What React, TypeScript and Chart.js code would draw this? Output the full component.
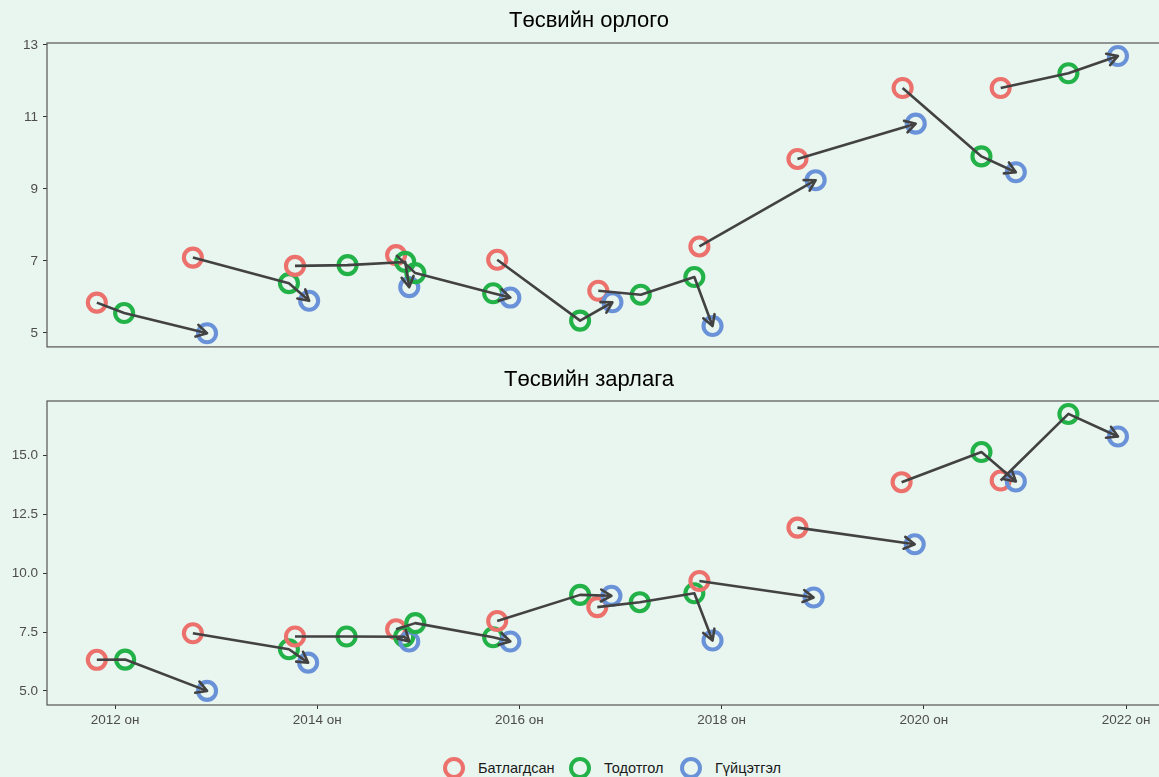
import { useEffect, useRef } from "react";
import { Chart, registerables } from "chart.js";

Chart.register(...registerables);

// each row: [budget year, time (decimal year), value]
type Obs = [number, number, number];

// Төсвийн орлого
const revenueApproved: Obs[] = [
  [2012, 2011.82, 5.84], [2013, 2012.77, 7.09], [2014, 2013.78, 6.86], [2015, 2014.78, 7.16],
  [2016, 2015.78, 7.03], [2017, 2016.78, 6.17], [2018, 2017.78, 7.4], [2019, 2018.75, 9.83],
  [2020, 2019.79, 11.8], [2021, 2020.76, 11.8],
];
const revenueAmended: Obs[] = [
  [2012, 2012.09, 5.55], [2013, 2013.72, 6.38], [2014, 2014.3, 6.88], [2014, 2014.87, 6.97],
  [2015, 2014.97, 6.66], [2015, 2015.74, 6.1], [2016, 2016.6, 5.34], [2017, 2017.2, 6.06],
  [2017, 2017.73, 6.55], [2020, 2020.57, 9.9], [2021, 2021.43, 12.21],
];
const revenueExecuted: Obs[] = [
  [2012, 2012.91, 4.99], [2013, 2013.92, 5.89], [2014, 2014.91, 6.27], [2015, 2015.91, 5.98],
  [2016, 2016.92, 5.85], [2017, 2017.91, 5.19], [2018, 2018.93, 9.24], [2019, 2019.92, 10.81],
  [2020, 2020.91, 9.46], [2021, 2021.92, 12.69],
];

// Төсвийн зарлага
const spendingApproved: Obs[] = [
  [2012, 2011.82, 6.32], [2013, 2012.77, 7.45], [2014, 2013.78, 7.31], [2015, 2014.78, 7.62],
  [2016, 2015.78, 7.97], [2017, 2016.77, 8.56], [2018, 2017.78, 9.67], [2019, 2018.75, 11.94],
  [2020, 2019.78, 13.87], [2021, 2020.76, 13.94],
];
const spendingAmended: Obs[] = [
  [2012, 2012.1, 6.33], [2013, 2013.72, 6.77], [2014, 2014.29, 7.31], [2014, 2014.86, 7.3],
  [2015, 2014.97, 7.88], [2015, 2015.74, 7.28], [2016, 2016.6, 9.08], [2017, 2017.19, 8.77],
  [2017, 2017.73, 9.15], [2020, 2020.57, 15.15], [2021, 2021.43, 16.77],
];
const spendingExecuted: Obs[] = [
  [2012, 2012.91, 5.0], [2013, 2013.91, 6.2], [2014, 2014.91, 7.1], [2015, 2015.91, 7.1],
  [2016, 2016.91, 9.04], [2017, 2017.91, 7.14], [2018, 2018.91, 8.97], [2019, 2019.91, 11.23],
  [2020, 2020.91, 13.9], [2021, 2021.92, 15.81],
];

const seriesNames = ["Батлагдсан", "Тодотгол", "Гүйцэтгэл"];
const seriesColors = ["#EC706B", "#22B247", "#6A92D8"];
const yearTicks = [2012, 2014, 2016, 2018, 2020, 2022];
const revenueTicks = [5, 7, 9, 11, 13];
const spendingTicks = [5, 7.5, 10, 12.5, 15];

const FONT = "'Liberation Sans', Arial, sans-serif";
const BG = "#E9F5EF";
const ARROW = "#424242";

// arrow heads at the end of every path
const arrowHeads = {
  id: "arrowHeads",
  afterDatasetsDraw(chart: any) {
    const ctx = chart.ctx;
    chart.data.datasets.forEach((ds: any, i: number) => {
      if (!ds.arrow) return;
      const pts = chart.getDatasetMeta(i).data;
      if (pts.length < 2) return;
      const a = pts[pts.length - 2];
      const b = pts[pts.length - 1];
      const ang = Math.atan2(b.y - a.y, b.x - a.x);
      const len = 12;
      const spread = Math.PI / 6;
      ctx.save();
      ctx.strokeStyle = ds.borderColor;
      ctx.lineWidth = ds.borderWidth;
      ctx.lineJoin = "round";
      ctx.lineCap = "round";
      ctx.beginPath();
      ctx.moveTo(b.x - len * Math.cos(ang - spread), b.y - len * Math.sin(ang - spread));
      ctx.lineTo(b.x, b.y);
      ctx.lineTo(b.x - len * Math.cos(ang + spread), b.y - len * Math.sin(ang + spread));
      ctx.stroke();
      ctx.restore();
    });
  },
};

// panel border
const panelBorder = {
  id: "panelBorder",
  beforeDatasetsDraw(chart: any) {
    const { ctx, chartArea } = chart;
    ctx.save();
    ctx.strokeStyle = "#555555";
    ctx.lineWidth = 1.2;
    ctx.strokeRect(chartArea.left, chartArea.top, chartArea.right - chartArea.left, chartArea.bottom - chartArea.top);
    ctx.restore();
  },
};

function buildDatasets(groups: Obs[][]) {
  const all = groups.flatMap((g, k) => g.map((o) => ({ o, k })));
  const byTime = [...all].sort((a, b) => a.o[1] - b.o[1]);
  const years = Array.from(new Set(all.map((p) => p.o[0]))).sort((a, b) => a - b);
  const points = {
    data: byTime.map((p) => ({ x: p.o[1], y: p.o[2] })),
    pointBorderColor: byTime.map((p) => seriesColors[p.k]),
    pointBackgroundColor: "rgba(0,0,0,0)",
    pointRadius: 9,
    pointBorderWidth: 4.1,
    showLine: false,
    clip: false,
    order: 1,
  };
  const paths = years.map((yr) => ({
    data: byTime.filter((p) => p.o[0] === yr).map((p) => ({ x: p.o[1], y: p.o[2] })),
    showLine: true,
    borderColor: ARROW,
    borderWidth: 2.6,
    borderJoinStyle: "round",
    pointRadius: 0,
    arrow: true,
    order: 0,
  }));
  return [points, ...paths];
}

function makeChart(
  canvas: HTMLCanvasElement,
  title: string,
  groups: Obs[][],
  yMin: number,
  yMax: number,
  yTicks: number[],
  yFmt: (v: number) => string,
  showX: boolean,
  titlePad: { top: number; bottom: number }
) {
  const tickFont = { family: FONT, size: 13.5 };
  return new Chart(canvas, {
    type: "scatter",
    data: { datasets: buildDatasets(groups) as any },
    plugins: [panelBorder, arrowHeads],
    options: {
      animation: false,
      responsive: false,
      layout: { autoPadding: false, padding: { bottom: showX ? 0 : 13 } },
      plugins: {
        legend: { display: false },
        tooltip: { enabled: false },
        title: {
          display: true,
          text: title,
          color: "#000000",
          font: { family: FONT, size: 22, weight: "normal" },
          padding: titlePad,
        },
      },
      scales: {
        x: {
          type: "linear",
          display: showX,
          min: 2011.327,
          max: 2022.514,
          bounds: "data",
          afterBuildTicks: (axis: any) => {
            axis.ticks = yearTicks.map((v) => ({ value: v }));
          },
          afterFit: (axis: any) => {
            if (showX) axis.height = 35;
          },
          ticks: {
            callback: (v: any) => `${v} он`,
            font: tickFont,
            color: "#4D4D4D",
            padding: 3,
            maxRotation: 0,
            autoSkip: false,
          },
          grid: { drawOnChartArea: false, tickLength: 4, color: "#333333" },
          border: { display: false },
        },
        y: {
          type: "linear",
          min: yMin,
          max: yMax,
          bounds: "data",
          afterBuildTicks: (axis: any) => {
            axis.ticks = yTicks.map((v) => ({ value: v }));
          },
          afterFit: (axis: any) => {
            axis.width = 47;
          },
          ticks: {
            callback: (v: any) => yFmt(Number(v)),
            font: tickFont,
            color: "#4D4D4D",
            padding: 5,
          },
          grid: { drawOnChartArea: false, tickLength: 4, color: "#333333" },
          border: { display: false },
        },
      },
    } as any,
  });
}

export default function App() {
  const topRef = useRef<HTMLCanvasElement>(null);
  const bottomRef = useRef<HTMLCanvasElement>(null);

  useEffect(() => {
    if (!topRef.current || !bottomRef.current) return;
    const charts = [
      makeChart(
        topRef.current,
        "Төсвийн орлого",
        [revenueApproved, revenueAmended, revenueExecuted],
        4.61,
        13.05,
        revenueTicks,
        (v) => String(v),
        false,
        { top: 8, bottom: 8.6 }
      ),
      makeChart(
        bottomRef.current,
        "Төсвийн зарлага",
        [spendingApproved, spendingAmended, spendingExecuted],
        4.4,
        17.32,
        spendingTicks,
        (v) => v.toFixed(1),
        true,
        { top: 6.4, bottom: 8.2 }
      ),
    ];
    return () => charts.forEach((c) => c.destroy());
  }, []);

  const legendCx = [454, 580, 691];

  return (
    <div
      style={{
        position: "fixed",
        left: 0,
        top: 0,
        width: 1159,
        height: 777,
        overflow: "hidden",
        background: BG,
        fontFamily: FONT,
      }}
    >
      <canvas ref={topRef} width={1178} height={360} style={{ position: "absolute", left: 0, top: 0 }} />
      <canvas ref={bottomRef} width={1178} height={380} style={{ position: "absolute", left: 0, top: 360 }} />
      {seriesNames.map((name, i) => (
        <div key={name}>
          <div
            style={{
              position: "absolute",
              left: legendCx[i] - 11,
              top: 768 - 11,
              width: 22,
              height: 22,
              boxSizing: "border-box",
              border: `4px solid ${seriesColors[i]}`,
              borderRadius: "50%",
            }}
          />
          <div
            style={{
              position: "absolute",
              left: legendCx[i] + 24,
              top: 768 - 9,
              fontSize: 14.5,
              lineHeight: "18px",
              color: "#1A1A1A",
              whiteSpace: "nowrap",
            }}
          >
            {name}
          </div>
        </div>
      ))}
    </div>
  );
}
